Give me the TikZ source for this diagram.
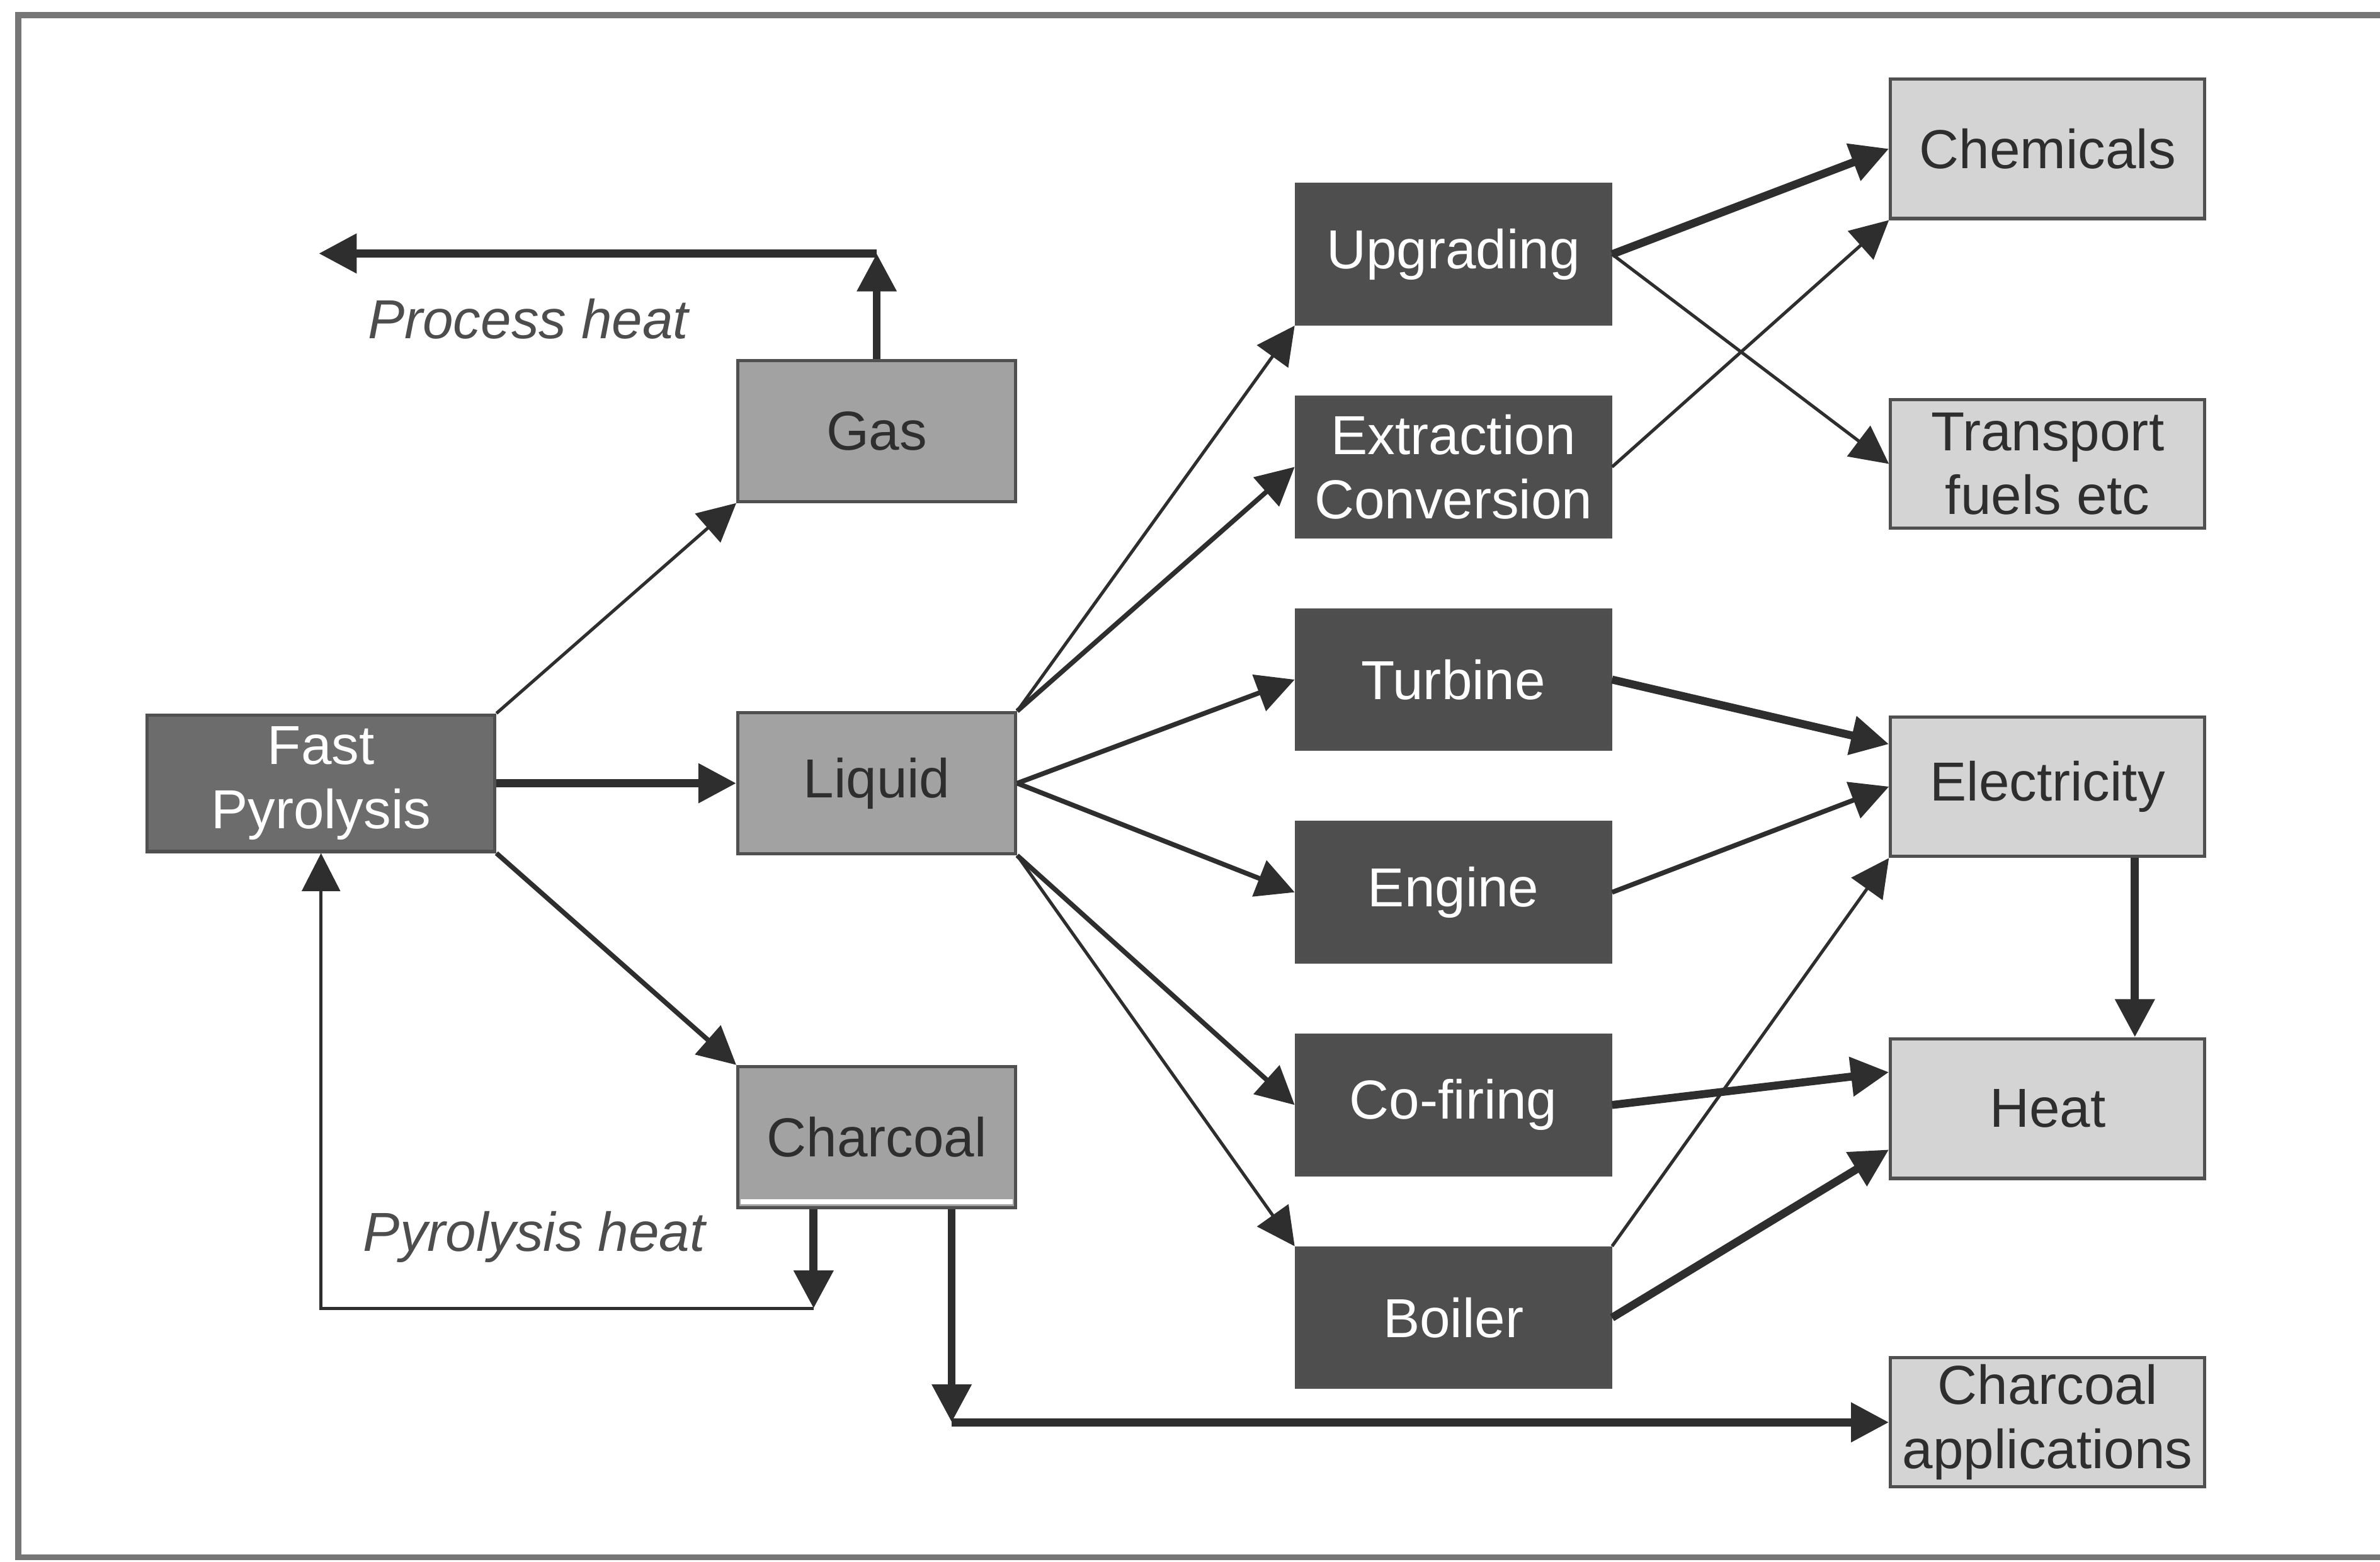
\documentclass[tikz,border=0pt]{standalone}
\usepackage{fontspec}
\setmainfont{Liberation Sans}
\usepackage{xcolor}
\usetikzlibrary{arrows.meta,positioning,calc}

\definecolor{frameg}{HTML}{767676}
\definecolor{edgeg}{HTML}{505050}
\definecolor{darkg}{HTML}{4E4E4E}
\definecolor{pyrog}{HTML}{6C6C6C}
\definecolor{midg}{HTML}{A2A2A2}
\definecolor{lightg}{HTML}{D4D4D4}
\definecolor{inkg}{HTML}{2E2E2E}

\begin{document}
\begin{tikzpicture}[
    node distance=0.46cm,
    box/.style={rectangle, draw=edgeg, line width=0.6pt, inner sep=0pt, align=center, font=\fontsize{10.3}{12}\selectfont},
    pyro/.style={box, fill=pyrog, text=white, minimum width=2.29cm, minimum height=0.90cm},
    product/.style={box, fill=midg, text=inkg, minimum width=1.83cm, minimum height=0.93cm},
    route/.style={box, fill=darkg, text=white, minimum width=2.07cm, minimum height=0.92cm},
    enduse/.style={box, fill=lightg, text=inkg, minimum width=2.07cm, minimum height=0.92cm},
    flow/.style={draw=inkg, line width=0.9pt, -{Triangle[length=0.25cm, width=0.25cm]}},
    bigflow/.style={flow, line width=1.5pt},
    thinflow/.style={flow, line width=0.6pt},
    note/.style={font=\itshape\fontsize{10.3}{12}\selectfont, text=inkg!85}
]
\useasboundingbox (0,0) rectangle (15.68,-10.29);
\draw[frameg, line width=1.1pt] (15.80,-0.10) -- (0.12,-0.10) -- (0.12,-10.26) -- (15.80,-10.26);

% Pyrolysis and its products
\node[pyro] (fp) at (2.115,-5.16) {Fast\\Pyrolysis};
\node[product, right=1.58cm of fp] (liquid) {Liquid};
\node[product, above=1.37cm of liquid] (gas) {Gas};
\node[product, below=1.38cm of liquid] (charcoal) {Charcoal};
\draw[white, line width=1pt] ([xshift=0.03cm, yshift=0.05cm]charcoal.south west) -- ([xshift=-0.03cm, yshift=0.05cm]charcoal.south east);

% Conversion routes
\node[route] (upg) at (9.575,-1.675) {Upgrading};
\node[route, below=of upg] (ext) {Extraction\\Conversion};
\node[route, below=of ext] (turb) {Turbine};
\node[route, below=of turb] (eng) {Engine};
\node[route, below=of eng] (cofire) {Co-firing};
\node[route, below=of cofire] (boil) {Boiler};

% End uses
\node[enduse] (chem) at (13.49,-0.98) {Chemicals};
\node[enduse, below=1.17cm of chem, minimum height=0.85cm] (fuels) {Transport\\fuels etc};
\node[enduse, below=1.22cm of fuels] (elec) {Electricity};
\node[enduse, below=1.18cm of elec] (heat) {Heat};
\node[enduse, below=1.16cm of heat, minimum height=0.85cm] (charapp) {Charcoal\\applications};

% Heat loops
\coordinate (phturn) at (gas.north |- 0,-1.67);
\coordinate (phend) at (2.10,-1.67);
\coordinate (pyturn) at (5.36,-8.62);
\coordinate (chturn) at (6.27,-9.37);
\node[note] (phlabel) at (3.48,-2.10) {Process heat};
\node[note] (pylabel) at (3.52,-8.15) {Pyrolysis heat};

% Arrows showing product flow
\draw[thinflow] (fp.north east) -- (gas.south west);
\draw[bigflow] (fp) -- (liquid);
\draw[flow] (fp.south east) -- (charcoal.north west);
\draw[bigflow] (gas.north) -- (phturn);
\draw[bigflow] (phturn) -- (phend);
\draw[bigflow] (charcoal.south -| pyturn) -- (pyturn);
\draw[thinflow] (pyturn) -| (fp.south);
\draw[bigflow] (charcoal.south -| chturn) -- (chturn);
\draw[bigflow] (chturn) -- (chturn -| charapp.west);

\draw[thinflow] (liquid.north east) -- (upg.south west);
\draw[flow] (liquid.north east) -- (ext.west);
\draw[flow] (liquid.east) -- (turb.west);
\draw[flow] (liquid.east) -- (eng.west);
\draw[flow] (liquid.south east) -- (cofire.west);
\draw[thinflow] (liquid.south east) -- (boil.north west);

\draw[bigflow] (upg.east) -- (chem.west);
\draw[thinflow] (upg.east) -- (fuels.west);
\draw[thinflow] (ext.east) -- (chem.south west);
\draw[bigflow] (turb.east) -- ([yshift=0.28cm]elec.west);
\draw[flow] (eng.east) -- (elec.west);
\draw[thinflow] (boil.north east) -- (elec.south west);
\draw[bigflow] (cofire.east) -- ([yshift=0.24cm]heat.west);
\draw[bigflow] (boil.east) -- ([yshift=-0.27cm]heat.west);
\draw[bigflow] ([xshift=0.575cm]elec.south) -- ([xshift=0.575cm]elec.south |- heat.north);

\end{tikzpicture}
\end{document}
